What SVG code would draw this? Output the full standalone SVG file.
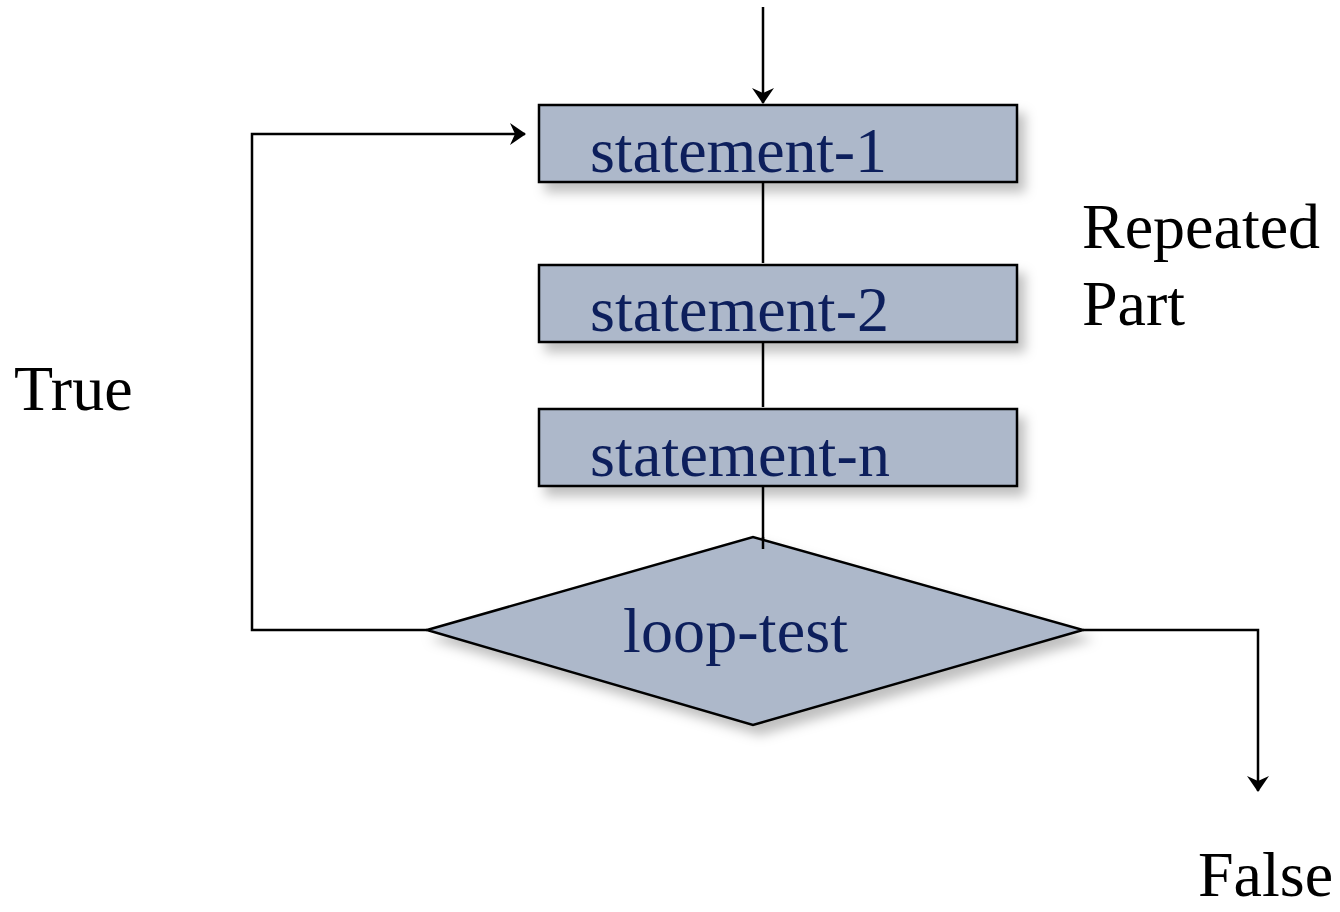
<svg xmlns="http://www.w3.org/2000/svg" width="1340" height="912" viewBox="0 0 1340 912">
  <style>
    .box { fill: #adb8ca; stroke: #000; stroke-width: 2.5; filter: url(#shadow); }
    .lbl { font-family: "Liberation Serif", "Times New Roman", serif; font-size: 64px; fill: #0d1f5c; }
    .note { font-family: "Liberation Serif", "Times New Roman", serif; font-size: 64px; fill: #000; }
    .wire { fill: none; stroke: #000; stroke-width: 2.5; }
  </style>
  <defs>
    <filter id="shadow" x="-10%" y="-20%" width="130%" height="150%">
      <feDropShadow dx="7" dy="9" stdDeviation="6" flood-color="#000" flood-opacity="0.25"/>
    </filter>
    <marker id="arrow" viewBox="0 0 16 22" refX="15" refY="11" markerWidth="16" markerHeight="22" orient="auto" markerUnits="userSpaceOnUse">
      <path d="M0,0 L16,11 L0,22 L5,11 z" fill="#000"/>
    </marker>
  </defs>
  <rect width="1340" height="912" fill="#fff"/>

  <g id="connectors">
    <line class="wire" x1="763" y1="7" x2="763" y2="103" marker-end="url(#arrow)"/>
    <line class="wire" x1="763" y1="182" x2="763" y2="263"/>
    <line class="wire" x1="763" y1="342" x2="763" y2="407"/>
    <line class="wire" x1="763" y1="486" x2="763" y2="549"/>
    <polyline class="wire" points="427,630 252,630 252,134 525,134" marker-end="url(#arrow)"/>
    <polyline class="wire" points="1083,630 1258,630 1258,791" marker-end="url(#arrow)"/>
  </g>

  <g id="statement-1">
    <rect class="box" x="539" y="105" width="478" height="77"/>
    <text class="lbl" x="590" y="172" textLength="297">statement-1</text>
  </g>
  <g id="statement-2">
    <rect class="box" x="539" y="265" width="478" height="77"/>
    <text class="lbl" x="590" y="331" textLength="299">statement-2</text>
  </g>
  <g id="statement-n">
    <rect class="box" x="539" y="409" width="478" height="77"/>
    <text class="lbl" x="590" y="476" textLength="300">statement-n</text>
  </g>
  <g id="loop-test">
    <polygon class="box" points="427,630 753,537 1083,630 753,725"/>
    <line class="wire" x1="763" y1="537" x2="763" y2="549"/>
    <text class="lbl" x="623" y="652" textLength="225">loop-test</text>
  </g>

  <g id="labels">
    <text class="note" x="14" y="410">True</text>
    <text class="note" x="1082" y="248">Repeated</text>
    <text class="note" x="1082" y="325">Part</text>
    <text class="note" x="1198" y="896" font-size="62">False</text>
  </g>
</svg>
